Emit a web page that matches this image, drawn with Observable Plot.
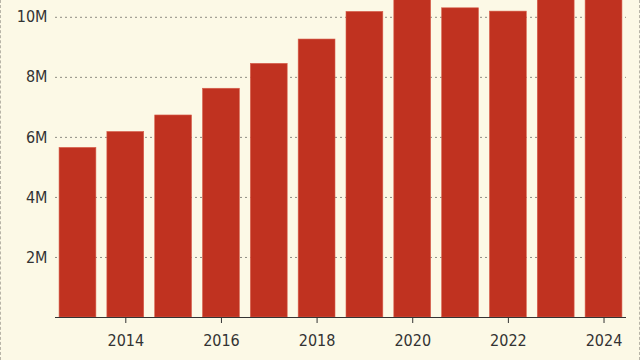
<!DOCTYPE html>
<html>
<head>
<meta charset="utf-8">
<script src="https://cdn.jsdelivr.net/npm/d3@7"></script>
<script src="https://cdn.jsdelivr.net/npm/@observablehq/plot@0.6"></script>
<style>
  html, body { margin: 0; padding: 0; background: #fcf9e6; }
  #chart { width: 640px; height: 360px; box-sizing: border-box; border-left: 1px dashed #b8b5a8; border-right: 1px dashed #b8b5a8; overflow: hidden; }
</style>
</head>
<body>
<div id="chart"></div>
<script>
const years = [2013, 2014, 2015, 2016, 2017, 2018, 2019, 2020, 2021, 2022, 2023, 2024];
const values = [5.65e6, 6.18e6, 6.73e6, 7.62e6, 8.45e6, 9.26e6, 10.18e6, 10.9e6, 10.3e6, 10.19e6, 11.2e6, 11.6e6];
const xTicks = [2014, 2016, 2018, 2020, 2022, 2024];
const yTicks = [2e6, 4e6, 6e6, 8e6, 10e6];
const yTickLabels = ["2M", "4M", "6M", "8M", "10M"];

const data = years.map((y, i) => ({year: y, value: values[i]}));
const font = "'DejaVu Sans Condensed', 'Liberation Sans Narrow', sans-serif";

const chart = Plot.plot({
  width: 638,
  height: 360,
  marginTop: 0,
  marginBottom: 43,
  marginLeft: 54,
  marginRight: 13,
  style: {background: "#fcf9e6", fontFamily: font, fontSize: "16px", color: "#333"},
  x: {type: "band", domain: years, paddingInner: 0.23, paddingOuter: 0.085, round: false, label: null},
  y: {domain: [0, 10.56e6], label: null},
  marks: [
    Plot.gridY(yTicks, {stroke: "#8f8d84", strokeOpacity: 1, strokeDasharray: "2,3"}),
    Plot.barY(data, {x: "year", y: "value", fill: "#c03220", stroke: "#d8604d", strokeWidth: 0.6, clip: true}),
    Plot.ruleY([0], {stroke: "#333", strokeWidth: 1.2}),
    Plot.axisX({ticks: xTicks, tickFormat: (d) => String(d), tickSize: 6, tickPadding: 11, fontSize: 16, stroke: "#333", fill: "#333"}),
    Plot.axisY({ticks: yTicks, tickFormat: (d) => yTickLabels[yTicks.indexOf(d)], tickSize: 0, tickPadding: 8, fontSize: 16, fill: "#333"})
  ]
});
document.getElementById("chart").appendChild(chart);
</script>
</body>
</html>
